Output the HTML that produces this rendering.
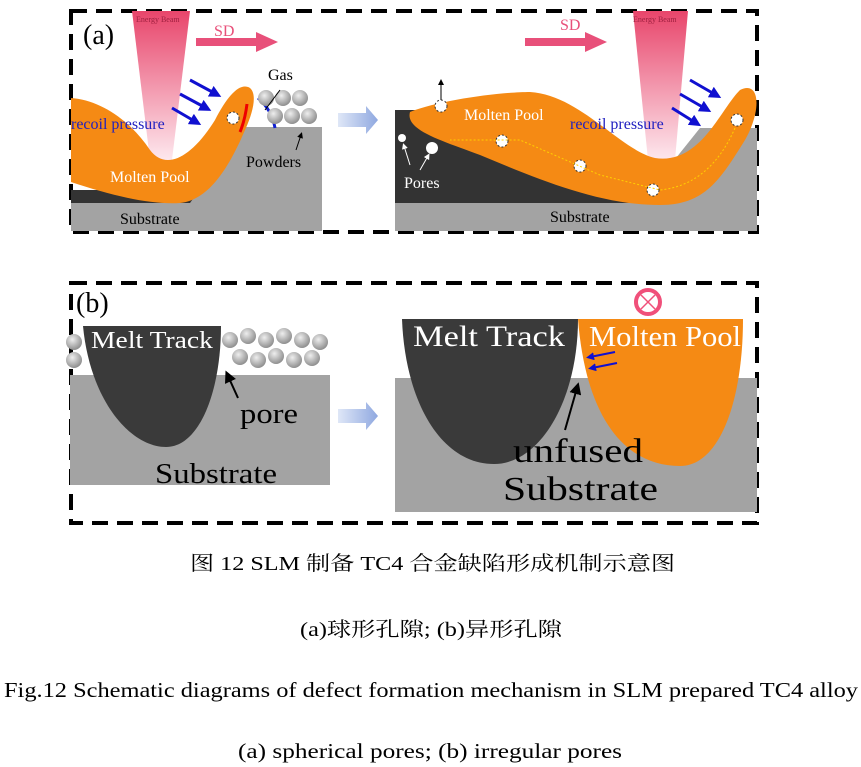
<!DOCTYPE html>
<html><head><meta charset="utf-8"><style>
html,body{margin:0;padding:0;background:#fff;}
svg{display:block;}
text{font-family:"Liberation Serif","Noto Serif CJK SC",serif;}
</style></head><body>
<svg width="861" height="767" viewBox="0 0 861 767" xmlns="http://www.w3.org/2000/svg">
<defs>
<linearGradient id="beam" x1="0" y1="0" x2="0" y2="1">
<stop offset="0" stop-color="#e8456b"/><stop offset="1" stop-color="#fde8ee"/>
</linearGradient>
<linearGradient id="arr" x1="0" y1="0" x2="1" y2="0">
<stop offset="0" stop-color="#dfe7f7"/><stop offset="1" stop-color="#8fa8e0"/>
</linearGradient>
<radialGradient id="ball" cx="0.4" cy="0.35" r="0.7">
<stop offset="0" stop-color="#eee"/><stop offset="1" stop-color="#888"/>
</radialGradient>
<marker id="bh" markerWidth="4" markerHeight="4" refX="2" refY="2" orient="auto"><path d="M0,0 L4,2 L0,4 Z" fill="#1010d0"/></marker>
<marker id="kh" markerWidth="6" markerHeight="6" refX="3" refY="3" orient="auto"><path d="M0,0 L6,3 L0,6 Z" fill="#000"/></marker>
<marker id="wh" markerWidth="6" markerHeight="6" refX="3" refY="3" orient="auto"><path d="M0,0 L6,3 L0,6 Z" fill="#fff"/></marker>
</defs>

<!-- Panel (a) -->
<rect x="71" y="11" width="686" height="221" fill="none" stroke="#000" stroke-width="4" stroke-dasharray="16,9"/>
<rect x="71" y="190" width="180" height="14" fill="#333"/>
<rect x="71" y="203" width="251" height="28" fill="#a3a3a3"/>
<polygon points="245,127 322,127 322,203 190,203" fill="#a3a3a3"/>
<polygon points="132,11 190,11 172,160 150,160" fill="url(#beam)"/>
<path d="M71,98 C100,100 130,120 150,150 C165,170 190,160 215,120 C228,95 240,82 250,88 C258,95 252,115 245,130 C230,165 210,200 180,203 C150,205 110,195 71,182 Z" fill="#f58a14"/>
<path d="M247,104 Q245,120 240,132" stroke="#e00" stroke-width="3" fill="none"/>
<path d="M258,98 Q272,110 275,128" stroke="#1020d0" stroke-width="3" fill="none"/>
<circle cx="233" cy="118" r="6" fill="#fff" stroke="#333" stroke-dasharray="2,2"/>
<g fill="url(#ball)">
<circle cx="266" cy="98" r="8"/><circle cx="283" cy="98" r="8"/><circle cx="300" cy="98" r="8"/>
<circle cx="275" cy="116" r="8"/><circle cx="292" cy="116" r="8"/><circle cx="309" cy="116" r="8"/>
</g>
<g stroke="#1010d0" stroke-width="3" marker-end="url(#bh)">
<line x1="190" y1="80" x2="216" y2="94"/><line x1="180" y1="94" x2="206" y2="108"/><line x1="172" y1="108" x2="196" y2="122"/>
</g>
<text x="83" y="44" font-size="28">(a)</text>
<text x="136" y="22" font-size="8" fill="#a02040">Energy Beam</text>
<text x="214" y="36" font-size="16" fill="#e8507a">SD</text>
<polygon points="196,38 256,38 256,32 278,42 256,52 256,46 196,46" fill="#e8507a"/>
<text x="71" y="129" font-size="16" fill="#2020c0">recoil pressure</text>
<text x="268" y="80" font-size="16">Gas</text>
<line x1="265" y1="110" x2="280" y2="90" stroke="#000"/>
<text x="246" y="167" font-size="16">Powders</text>
<line x1="296" y1="150" x2="301" y2="135" stroke="#000" marker-end="url(#kh)"/>
<text x="110" y="182" font-size="16" fill="#fff">Molten Pool</text>
<text x="120" y="224" font-size="16">Substrate</text>
<polygon points="338,113 366,113 366,106 378,120 366,134 366,127 338,127" fill="url(#arr)"/>
<!-- right image -->
<polygon points="395,110 420,110 640,203 395,203" fill="#333"/>
<rect x="395" y="203" width="362" height="28" fill="#a3a3a3"/>
<polygon points="640,203 700,128 757,128 757,203" fill="#a3a3a3"/>
<polygon points="633,11 688,11 675,160 648,160" fill="url(#beam)"/>
<path d="M410,112 C440,100 500,92 530,92 C580,95 620,150 655,158 C700,165 720,110 740,90 C760,80 762,110 745,140 C720,180 705,205 660,205 C600,205 540,180 480,155 C440,140 405,130 410,112 Z" fill="#f58a14"/>
<g fill="#fff" stroke="#333" stroke-dasharray="2,2">
<circle cx="441" cy="106" r="6"/><circle cx="502" cy="141" r="6"/><circle cx="580" cy="166" r="6"/><circle cx="653" cy="190" r="6"/><circle cx="737" cy="120" r="6"/>
</g>
<path d="M735,128 Q710,185 660,190 L600,175 L520,140 L450,140" stroke="#ffd000" stroke-dasharray="2,2" fill="none"/>
<circle cx="402" cy="138" r="4" fill="#fff"/><circle cx="432" cy="148" r="6" fill="#fff"/>
<line x1="441" y1="100" x2="441" y2="82" stroke="#000" marker-end="url(#kh)"/>
<line x1="410" y1="165" x2="404" y2="146" stroke="#fff" marker-end="url(#wh)"/>
<line x1="420" y1="170" x2="428" y2="156" stroke="#fff" marker-end="url(#wh)"/>
<g stroke="#1010d0" stroke-width="3" marker-end="url(#bh)">
<line x1="690" y1="80" x2="716" y2="95"/><line x1="680" y1="94" x2="706" y2="109"/><line x1="672" y1="108" x2="696" y2="123"/>
</g>
<text x="560" y="30" font-size="16" fill="#e8507a">SD</text>
<polygon points="525,38 585,38 585,32 607,42 585,52 585,46 525,46" fill="#e8507a"/>
<text x="633" y="22" font-size="8" fill="#a02040">Energy Beam</text>
<text x="464" y="120" font-size="16" fill="#fff">Molten Pool</text>
<text x="570" y="129" font-size="16" fill="#2020c0">recoil pressure</text>
<text x="404" y="188" font-size="16" fill="#fff">Pores</text>
<text x="550" y="222" font-size="16">Substrate</text>

<!-- Panel (b) -->
<rect x="71" y="283" width="686" height="240" fill="none" stroke="#000" stroke-width="4" stroke-dasharray="16,9"/>
<rect x="70" y="375" width="260" height="110" fill="#a3a3a3"/>
<g fill="url(#ball)">
<circle cx="74" cy="342" r="8"/><circle cx="74" cy="360" r="8"/>
<circle cx="230" cy="340" r="8"/><circle cx="248" cy="336" r="8"/><circle cx="266" cy="340" r="8"/><circle cx="284" cy="336" r="8"/><circle cx="302" cy="340" r="8"/><circle cx="320" cy="342" r="8"/>
<circle cx="240" cy="357" r="8"/><circle cx="258" cy="360" r="8"/><circle cx="276" cy="356" r="8"/><circle cx="294" cy="360" r="8"/><circle cx="312" cy="358" r="8"/>
</g>
<path d="M83,326 L221,326 C221,390 200,447 166,447 C130,447 90,400 83,326 Z" fill="#3a3a3a"/>
<text x="91" y="348" font-size="24" fill="#fff" textLength="122" lengthAdjust="spacingAndGlyphs">Melt Track</text>
<line x1="238" y1="398" x2="228" y2="376" stroke="#000" stroke-width="2" marker-end="url(#kh)"/>
<text x="240" y="423" font-size="28" textLength="58" lengthAdjust="spacingAndGlyphs">pore</text>
<text x="155" y="483" font-size="28" textLength="122" lengthAdjust="spacingAndGlyphs">Substrate</text>
<text x="76" y="312" font-size="28">(b)</text>
<polygon points="338,409 366,409 366,402 378,416 366,430 366,423 338,423" fill="url(#arr)"/>
<rect x="395" y="378" width="362" height="134" fill="#a3a3a3"/>
<path d="M402,319 L578,319 C578,400 540,464 494,464 C440,464 405,400 402,319 Z" fill="#3a3a3a"/>
<path d="M578,319 L743,319 C743,400 720,466 680,466 C620,466 585,410 578,319 Z" fill="#f58a14"/>
<g stroke="#1010d0" stroke-width="2" marker-end="url(#bh)"><line x1="615" y1="352" x2="590" y2="357"/><line x1="617" y1="363" x2="592" y2="368"/></g>
<line x1="565" y1="430" x2="577" y2="388" stroke="#000" stroke-width="2" marker-end="url(#kh)"/>
<text x="413" y="346" font-size="30" fill="#fff" textLength="152" lengthAdjust="spacingAndGlyphs">Melt Track</text>
<text x="589" y="346" font-size="28" fill="#fff" textLength="152" lengthAdjust="spacingAndGlyphs">Molten Pool</text>
<text x="513" y="462" font-size="34" textLength="130" lengthAdjust="spacingAndGlyphs">unfused</text>
<text x="503" y="500" font-size="34" textLength="155" lengthAdjust="spacingAndGlyphs">Substrate</text>
<circle cx="648" cy="302" r="12" fill="#fff" stroke="#f0507a" stroke-width="4"/>
<g stroke="#f0507a" stroke-width="1.5"><line x1="641" y1="295" x2="655" y2="309"/><line x1="655" y1="295" x2="641" y2="309"/></g>

<!-- captions -->
<text x="190" y="570" font-size="20" textLength="485" lengthAdjust="spacingAndGlyphs">图 12 SLM 制备 TC4 合金缺陷形成机制示意图</text>
<text x="300" y="636" font-size="20" textLength="262" lengthAdjust="spacingAndGlyphs">(a)球形孔隙; (b)异形孔隙</text>
<text x="4" y="697" font-size="21" textLength="854" lengthAdjust="spacingAndGlyphs">Fig.12 Schematic diagrams of defect formation mechanism in SLM prepared TC4 alloy</text>
<text x="238" y="758" font-size="21" textLength="384" lengthAdjust="spacingAndGlyphs">(a)   spherical pores; (b) irregular pores</text>
</svg>
</body></html>
